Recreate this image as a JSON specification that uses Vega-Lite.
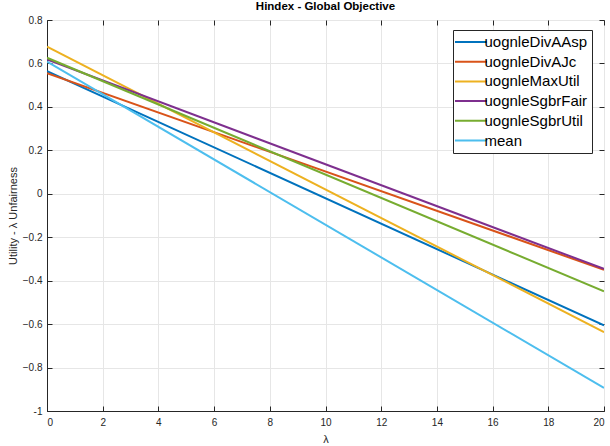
{
  "$schema": "https://vega.github.io/schema/vega-lite/v6.json",
  "width": 557,
  "height": 391,
  "autosize": {"type": "none"},
  "padding": {"left": 47, "top": 20, "right": 6, "bottom": 35},
  "background": "white",
  "title": {"text": "Hindex - Global Objective", "font": "Liberation Sans", "fontSize": 11.5, "fontWeight": "bold", "color": "#000000", "offset": 3},
  "config": {
    "view": {"stroke": "#262626", "strokeWidth": 1},
    "axis": {
      "labelFont": "Liberation Sans", "labelFontSize": 10, "labelColor": "#262626",
      "titleFont": "Liberation Sans", "titleFontSize": 11, "titleColor": "#262626", "titleFontWeight": "normal",
      "domainColor": "#262626", "tickColor": "#262626", "tickSize": -5,
      "gridColor": "#e6e6e6", "gridWidth": 1
    }
  },
  "data": {"values": [
    {"lambda": 0, "value": 0.565, "series": "uognleDivAAsp"},
    {"lambda": 20, "value": -0.606, "series": "uognleDivAAsp"},
    {"lambda": 0, "value": 0.555, "series": "uognleDivAJc"},
    {"lambda": 20, "value": -0.35, "series": "uognleDivAJc"},
    {"lambda": 0, "value": 0.677, "series": "uognleMaxUtil"},
    {"lambda": 20, "value": -0.637, "series": "uognleMaxUtil"},
    {"lambda": 0, "value": 0.618, "series": "uognleSgbrFair"},
    {"lambda": 20, "value": -0.346, "series": "uognleSgbrFair"},
    {"lambda": 0, "value": 0.626, "series": "uognleSgbrUtil"},
    {"lambda": 20, "value": -0.449, "series": "uognleSgbrUtil"},
    {"lambda": 0, "value": 0.609, "series": "mean"},
    {"lambda": 20, "value": -0.894, "series": "mean"}
  ]},
  "layer": [
    {
      "mark": {"type": "line", "strokeWidth": 2, "clip": true},
      "encoding": {
        "x": {"field": "lambda", "type": "quantitative", "scale": {"domain": [0, 20], "nice": false},
          "axis": {"title": "λ", "values": [0,2,4,6,8,10,12,14,16,18,20], "labelPadding": 11, "titlePadding": 6}},
        "y": {"field": "value", "type": "quantitative", "scale": {"domain": [-1, 0.8], "nice": false},
          "axis": {"title": "Utility - λ Unfairness", "values": [-1,-0.8,-0.6,-0.4,-0.2,0,0.2,0.4,0.6,0.8], "labelPadding": 10, "titlePadding": 4,
            "labelExpr": "datum.value == 0 ? '0' : (datum.value == -1 ? '-1' : format(datum.value, '.1f'))"}},
        "color": {"field": "series", "type": "nominal",
          "scale": {"domain": ["uognleDivAAsp", "uognleDivAJc", "uognleMaxUtil", "uognleSgbrFair", "uognleSgbrUtil", "mean"],
            "range": ["#0072BD", "#D95319", "#EDB120", "#7E2F8E", "#77AC30", "#4DBEEE"]},
          "legend": {"title": null, "orient": "none", "legendX": 406, "legendY": 10,
            "symbolType": "M-3,0H3", "symbolSize": 114, "symbolStrokeWidth": 2, "symbolOffset": 6,
            "labelFont": "Liberation Sans", "labelFontSize": 15, "labelColor": "#000000", "labelOffset": 6,
            "rowPadding": 3.7, "padding": 4.5, "strokeColor": "#262626", "fillColor": "white"}}
      }
    },
    {
      "mark": {"type": "line", "opacity": 0, "clip": true},
      "encoding": {
        "x": {"field": "lambda", "type": "quantitative",
          "axis": {"orient": "top", "title": null, "labels": false, "grid": false, "domain": false, "values": [0,2,4,6,8,10,12,14,16,18,20]}},
        "y": {"field": "value", "type": "quantitative",
          "axis": {"orient": "right", "title": null, "labels": false, "grid": false, "domain": false, "values": [-1,-0.8,-0.6,-0.4,-0.2,0,0.2,0.4,0.6,0.8]}}
      }
    }
  ],
  "resolve": {"axis": {"x": "independent", "y": "independent"}}
}
